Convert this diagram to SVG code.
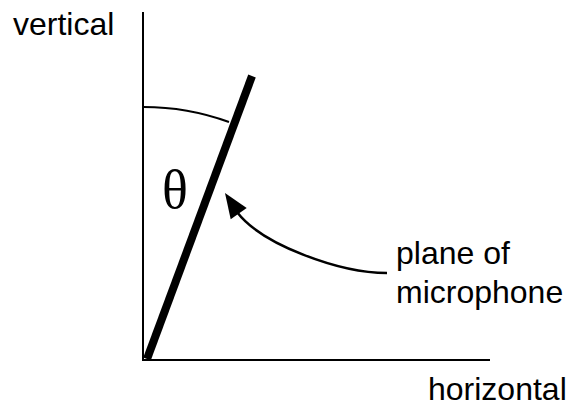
<svg xmlns="http://www.w3.org/2000/svg" width="575" height="407" viewBox="0 0 575 407">
<style>
.lbl{font-family:"Liberation Sans",Arial,sans-serif;font-size:32px;fill:#000}
.sym{font-family:"Liberation Serif","Times New Roman",serif;font-size:54px;fill:#000}
.ax{stroke:#000;stroke-width:2;fill:none}
</style>
<rect width="575" height="407" fill="#fff"/>
<g id="axes">
<line class="ax" x1="143" y1="12" x2="143" y2="361"/>
<line class="ax" x1="143" y1="360" x2="490" y2="360"/>
</g>
<g id="microphone-plane">
<line x1="147" y1="359" x2="252" y2="76" stroke="#000" stroke-width="8"/>
</g>
<g id="angle">
<path class="ax" d="M143,107 A251,251 0 0,1 229,122"/>
<text class="sym" x="162" y="208">θ</text>
</g>
<g id="labels">
<text class="lbl" x="13" y="35">vertical</text>
<text class="lbl" x="428" y="400">horizontal</text>
<text class="lbl" x="396" y="264">plane of</text>
<text class="lbl" x="396" y="303">microphone</text>
</g>
<g id="connectors">
<path d="M387,273 C340,273 262,245 237,212" fill="none" stroke="#000" stroke-width="2.5"/>
<polygon points="225,193 246.7,208 230.7,219.3" fill="#000"/>
</g>
</svg>
